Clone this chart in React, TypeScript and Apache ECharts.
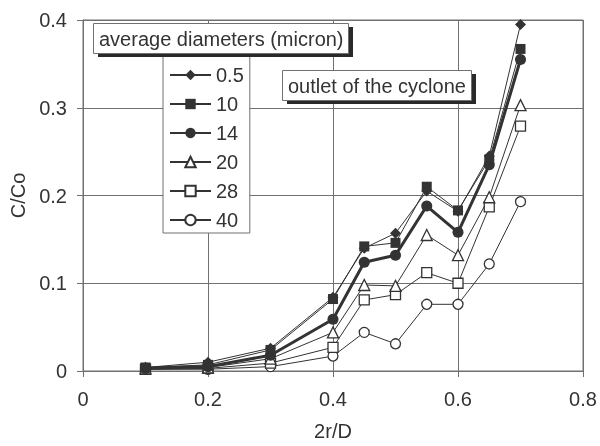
import React, { useEffect, useRef } from "react";
import * as echarts from "echarts";

const xValues = [0.1, 0.2, 0.3, 0.4, 0.45, 0.5, 0.55, 0.6, 0.65, 0.7];
const d05 = [0.004, 0.01, 0.026, 0.084, 0.14, 0.157, 0.205, 0.182, 0.245, 0.395];
const d10 = [0.004, 0.007, 0.024, 0.082, 0.142, 0.146, 0.21, 0.183, 0.241, 0.367];
const d14 = [0.003, 0.005, 0.018, 0.059, 0.124, 0.132, 0.188, 0.158, 0.235, 0.355];
const d20 = [0.003, 0.004, 0.014, 0.044, 0.098, 0.097, 0.155, 0.132, 0.198, 0.303];
const d28 = [0.002, 0.003, 0.009, 0.027, 0.081, 0.087, 0.112, 0.1, 0.187, 0.279];
const d40 = [0.002, 0.002, 0.005, 0.017, 0.044, 0.031, 0.076, 0.076, 0.122, 0.193];
const seriesNames = ["0.5", "10", "14", "20", "28", "40"];

const FONT = "'Liberation Sans', Arial, sans-serif";
const INK = "#333333";
const GRIDC = "#707070";
const FS = 20;

export default function App() {
  const ref = useRef<HTMLDivElement>(null);
  useEffect(() => {
    if (!ref.current) return;
    const chart = echarts.init(ref.current, undefined, { renderer: "svg" });
    const pair = (ys: number[]) => xValues.map((x, i) => [x, ys[i]]);
    const mk = (
      name: string,
      ys: number[],
      symbol: string,
      size: number,
      filled: boolean,
      width: number
    ) => ({
      name,
      type: "line",
      data: pair(ys),
      symbol,
      symbolSize: size,
      showSymbol: true,
      lineStyle: { color: INK, width },
      itemStyle: filled
        ? { color: INK, borderColor: INK, borderWidth: 0 }
        : { color: "#ffffff", borderColor: INK, borderWidth: 1.3 },
      emphasis: { disabled: true },
    });
    chart.setOption({
      animation: false,
      textStyle: { fontFamily: FONT },
      grid: {
        left: 82,
        right: 17,
        top: 20,
        bottom: 69,
        show: true,
        borderColor: GRIDC,
        borderWidth: 1,
        backgroundColor: "transparent",
      },
      xAxis: {
        type: "value",
        min: 0,
        max: 0.8,
        interval: 0.2,
        name: "2r/D",
        nameLocation: "middle",
        nameGap: 50,
        nameTextStyle: { fontSize: FS, color: INK, fontFamily: FONT },
        axisLine: { show: true, lineStyle: { color: GRIDC, width: 1 } },
        axisTick: { show: true, inside: false, length: 6, lineStyle: { color: GRIDC } },
        axisLabel: {
          fontSize: FS,
          color: INK,
          margin: 18,
          fontFamily: FONT,
          formatter: (v: number) => String(Math.round(v * 10) / 10),
        },
        splitLine: { show: true, lineStyle: { color: GRIDC, width: 1 } },
      },
      yAxis: {
        type: "value",
        min: 0,
        max: 0.4,
        interval: 0.1,
        name: "C/Co",
        nameLocation: "middle",
        nameGap: 55,
        nameTextStyle: { fontSize: FS, color: INK, fontFamily: FONT },
        axisLine: { show: true, lineStyle: { color: GRIDC, width: 1 } },
        axisTick: { show: true, inside: false, length: 6, lineStyle: { color: GRIDC } },
        axisLabel: {
          fontSize: FS,
          color: INK,
          margin: 16,
          fontFamily: FONT,
          formatter: (v: number) => String(Math.round(v * 10) / 10),
        },
        splitLine: { show: true, lineStyle: { color: GRIDC, width: 1 } },
      },
      legend: {
        orient: "vertical",
        left: 163,
        top: 50,
        padding: [15, 6, 3, 6],
        itemWidth: 41,
        itemHeight: 13,
        itemGap: 9,
        backgroundColor: "#ffffff",
        borderColor: GRIDC,
        borderWidth: 1,
        borderRadius: 0,
        textStyle: { fontSize: FS, color: INK, fontFamily: FONT, lineHeight: 20 },
        data: seriesNames,
        z: 5,
      },
      series: [
        mk(seriesNames[5], d40, "circle", 10, false, 1),
        mk(seriesNames[4], d28, "rect", 10, false, 1),
        mk(seriesNames[3], d20, "triangle", 11, false, 1),
        mk(seriesNames[2], d14, "circle", 11, true, 3),
        mk(seriesNames[0], d05, "diamond", 11, true, 1),
        mk(seriesNames[1], d10, "rect", 10, true, 1),
      ],
      graphic: [
        { type: "rect", z: 100, shape: { x: 98, y: 27, width: 255, height: 30 }, style: { fill: "#2a2a2a" } },
        { type: "rect", z: 101, shape: { x: 93.5, y: 23.5, width: 255, height: 30 }, style: { fill: "#ffffff", stroke: GRIDC, lineWidth: 1 } },
        { type: "text", z: 102, x: 99, y: 38.5, style: { text: "average diameters (micron)", fontSize: FS, fontFamily: FONT, fill: INK, verticalAlign: "middle", align: "left" } },
        { type: "rect", z: 100, shape: { x: 287, y: 74, width: 189, height: 30 }, style: { fill: "#2a2a2a" } },
        { type: "rect", z: 101, shape: { x: 282.5, y: 70.5, width: 189, height: 30 }, style: { fill: "#ffffff", stroke: GRIDC, lineWidth: 1 } },
        { type: "text", z: 102, x: 288, y: 85.5, style: { text: "outlet of the cyclone", fontSize: FS, fontFamily: FONT, fill: INK, verticalAlign: "middle", align: "left" } },
      ],
    });
    return () => chart.dispose();
  }, []);
  return (
    <div
      ref={ref}
      style={{ position: "fixed", left: 0, top: 0, width: 600, height: 446 }}
    />
  );
}
